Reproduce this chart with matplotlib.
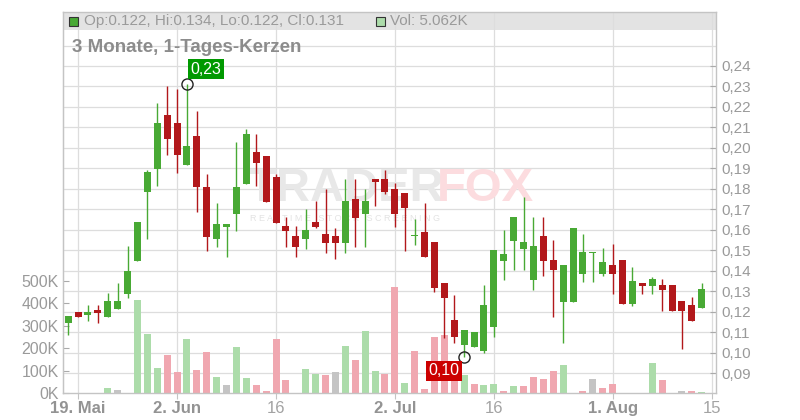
# -*- coding: UTF-8 -*-

# Candlestick chart, 3 months of daily candles, with volume underneath

import numpy as np
import pandas as pd
import matplotlib
matplotlib.use('Agg')
import matplotlib.pyplot as plt
from matplotlib.patches import Rectangle

plt.rcParams['font.family'] = ['Liberation Sans', 'DejaVu Sans']

# trading days 16 May - 15 Aug 2025 (last candle is 14 Aug)
dates = pd.bdate_range('2025-05-16', '2025-08-15')

opens = [0.1146, 0.1198, 0.1185, 0.1208, 0.1175, 0.1215, 0.1288, 0.1449, 0.1786, 0.1898,
         0.2161, 0.2123, 0.1918, 0.2058, 0.1809, 0.1557, 0.1615, 0.1677, 0.1825, 0.1980,
         0.1960, 0.1858, 0.1618, 0.1570, 0.1557, 0.1638, 0.1579, 0.1570, 0.1537, 0.1750,
         0.1679, 0.1848, 0.1848, 0.1799, 0.1780, 0.1568, 0.1589, 0.1540, 0.1340, 0.1159,
         0.1037, 0.1029, 0.1009, 0.1127, 0.1449, 0.1547, 0.1508, 0.1355, 0.1570, 0.1452,
         0.1249, 0.1249, 0.1385, 0.1485, 0.1385, 0.1428, 0.1452, 0.1237, 0.1340, 0.1325,
         0.1330, 0.1330, 0.1252, 0.1232, 0.1220]
highs = [0.1179, 0.1198, 0.1232, 0.1232, 0.1291, 0.1342, 0.1522, 0.1638, 0.1892, 0.2221,
         0.2300, 0.2286, 0.2312, 0.2182, 0.1872, 0.1732, 0.1628, 0.2030, 0.2092, 0.2068,
         0.1960, 0.1872, 0.1664, 0.1618, 0.1703, 0.1742, 0.1801, 0.1609, 0.1850, 0.1850,
         0.1801, 0.1848, 0.1892, 0.1827, 0.1780, 0.1651, 0.1732, 0.1540, 0.1340, 0.1281,
         0.1110, 0.1100, 0.1330, 0.1501, 0.1599, 0.1664, 0.1762, 0.1664, 0.1664, 0.1550,
         0.1428, 0.1609, 0.1579, 0.1491, 0.1511, 0.1530, 0.1452, 0.1418, 0.1340, 0.1369,
         0.1359, 0.1330, 0.1252, 0.1272, 0.1340]
lows = [0.1086, 0.1175, 0.1156, 0.1146, 0.1175, 0.1215, 0.1268, 0.1449, 0.1557, 0.1814,
        0.1965, 0.1879, 0.1918, 0.1688, 0.1498, 0.1517, 0.1469, 0.1596, 0.1825, 0.1814,
        0.1737, 0.1635, 0.1517, 0.1469, 0.1508, 0.1607, 0.1488, 0.1459, 0.1488, 0.1517,
        0.1517, 0.1718, 0.1776, 0.1615, 0.1498, 0.1526, 0.1469, 0.1298, 0.1070, 0.1048,
        0.0980, 0.1029, 0.0996, 0.1078, 0.1355, 0.1403, 0.1403, 0.1306, 0.1374, 0.1175,
        0.1048, 0.1249, 0.1346, 0.1346, 0.1374, 0.1286, 0.1237, 0.1228, 0.1286, 0.1286,
        0.1205, 0.1205, 0.1019, 0.1156, 0.1220]
closes = [0.1179, 0.1175, 0.1198, 0.1195, 0.1254, 0.1254, 0.1399, 0.1638, 0.1882, 0.2123,
          0.2045, 0.1967, 0.2009, 0.1807, 0.1566, 0.1628, 0.1628, 0.1809, 0.2068, 0.1928,
          0.1737, 0.1635, 0.1596, 0.1517, 0.1599, 0.1615, 0.1537, 0.1537, 0.1740, 0.1659,
          0.1740, 0.1835, 0.1786, 0.1679, 0.1708, 0.1572, 0.1469, 0.1317, 0.1268, 0.1078,
          0.1110, 0.1100, 0.1232, 0.1501, 0.1482, 0.1664, 0.1540, 0.1521, 0.1449, 0.1403,
          0.1428, 0.1609, 0.1491, 0.1491, 0.1442, 0.1385, 0.1237, 0.1350, 0.1325, 0.1359,
          0.1306, 0.1205, 0.1205, 0.1156, 0.1310]

# volume in K, colour code g = up, r = down, n = unchanged
volumes = [0, 0, 0, 0, 22, 13, 0, 412, 261, 111,
           168, 93, 239, 102, 182, 71, 35, 204, 66, 35,
           9, 239, 58, 0, 106, 84, 80, 93, 208, 146,
           275, 97, 84, 470, 44, 186, 18, 248, 257, 100,
           80, 40, 35, 40, 9, 31, 31, 71, 62, 97,
           124, 0, 9, 62, 22, 40, 0, 0, 0, 133,
           58, 0, 9, 9, 5.062]
vol_dir = 'nnnngnngggrrgrrgnggrrrrrggrngrggrrgrrrrrgrggrgrrrrgnrnrrnnngrnnrg'

# ticks
price_ticks = [0.09, 0.10, 0.11, 0.12, 0.13, 0.14, 0.15, 0.16, 0.17, 0.18, 0.19, 0.20, 0.21, 0.22, 0.23, 0.24]
vol_ticks = [0, 100, 200, 300, 400, 500]
date_ticks = ['2025-05-19', '2025-06-02', '2025-06-16', '2025-07-02', '2025-07-16', '2025-08-01', '2025-08-15']
date_labels = ['19. Mai', '2. Jun', '16', '2. Jul', '16', '1. Aug', '15']

GREEN = '#48a934'
RED = '#b2181b'
VCOL = {'g': '#acdcaa', 'r': '#f0a7b0', 'n': '#c4c4c4'}
GRID = '#dddddd'
FRAME = '#c4c4c4'
TXT = '#9a9a9a'

opens = np.array(opens)
highs = np.array(highs)
lows = np.array(lows)
closes = np.array(closes)
volumes = np.array(volumes)

ymin, ymax = 0.08023, 0.26638
k = 0.00010993   # price units per 1K of volume

fig = plt.figure(figsize=(8, 4.2), dpi=100)
ax = fig.add_axes([63 / 800, 27 / 420, 653 / 800, 381 / 420])

x = np.arange(len(closes))
col = np.where(closes >= opens, GREEN, RED)

# volume
ax.bar(x, volumes * k, bottom=ymin, width=0.7, color=[VCOL[c] for c in vol_dir], zorder=2)

# candles
ax.vlines(x, lows, highs, color=col, lw=1.0, zorder=3)
body = np.maximum(np.abs(closes - opens), 0.0004)
ax.bar(x, body, bottom=np.minimum(opens, closes), width=0.7, color=col, zorder=4)

ax.set_xlim(-0.52, 65.44)
ax.set_ylim(ymin, ymax)

# grid
ax.set_axisbelow(True)
ax.grid(True, color=GRID, lw=0.9)
ax.axhline(0.25, color=GRID, lw=0.9, zorder=0.5)

for s in ax.spines.values():
    s.set_color(FRAME)
    s.set_linewidth(1.0)

# x axis
xpos = [dates.get_loc(pd.Timestamp(d)) for d in date_ticks]
ax.set_xticks(xpos)
ax.set_xticklabels(date_labels)
for lab in ax.get_xticklabels():
    if '.' in lab.get_text():
        lab.set_fontweight('bold')
        lab.set_color('#939393')
    else:
        lab.set_color('#a3a3a3')
ax.tick_params(axis='x', direction='out', length=4, color=FRAME, labelsize=12, pad=2)

# price axis right
ax.yaxis.tick_right()
ax.set_yticks(price_ticks)
ax.set_yticklabels([f'{p:.2f}'.replace('.', ',') for p in price_ticks])
ax.tick_params(axis='y', direction='in', length=4, color='#aaaaaa', labelsize=11,
               labelcolor=TXT, pad=4)

# volume axis left
sec = ax.secondary_yaxis('left', functions=(lambda p: (p - ymin) / k, lambda v: ymin + v * k))
sec.set_yticks(vol_ticks)
sec.set_yticklabels([f'{v}K' for v in vol_ticks])
sec.tick_params(direction='in', length=4, color='#aaaaaa', labelsize=11.5, labelcolor=TXT, pad=3)
sec.spines['left'].set_color(FRAME)

# high / low markers
ih = int(np.argmax(highs))
il = int(np.argmin(lows))
ax.plot([x[ih], x[il]], [highs[ih], lows[il]], 'o', ms=8, mfc='none', mec='#222222', mew=1, zorder=6)
ax.annotate(f'{highs[ih]:.2f}'.replace('.', ','), (x[ih], highs[ih]), xytext=(19, 15),
            textcoords='offset pixels', ha='center', va='center', color='white', fontsize=11.5,
            bbox=dict(boxstyle='square,pad=0.15', fc='#009900', ec='none'), zorder=7)
ax.annotate(f'{lows[il]:.2f}'.replace('.', ','), (x[il], lows[il]), xytext=(-20, -14),
            textcoords='offset pixels', ha='center', va='center', color='white', fontsize=11.5,
            bbox=dict(boxstyle='square,pad=0.15', fc='#cc0000', ec='none'), zorder=7)

# watermark
ax.text(0.282, 0.535, 'TRADER', transform=ax.transAxes, fontsize=34, fontweight='bold',
        color='#e8e8e8', ha='left', va='center', zorder=1)
ax.text(0.573, 0.535, 'FOX', transform=ax.transAxes, fontsize=34, fontweight='bold',
        color='#fcdcdf', ha='left', va='center', zorder=1)
ax.text(0.286, 0.457, 'R E A L T I M E   S T O C K   S C R E E N I N G', transform=ax.transAxes,
        fontsize=6.5, color='#e3e3e3', ha='left', va='center', zorder=1)

# legend band on top (grid runs through it)
ax.add_patch(Rectangle((0, (393 - 30) / 381), 1, 18 / 381, transform=ax.transAxes,
                       fc='#e3e3e3', ec='none', zorder=0.2))
fig.add_artist(Rectangle((69 / 800, (420 - 26) / 420), 9 / 800, 9 / 420, transform=fig.transFigure,
                         fc=GREEN, ec='#333333', lw=0.8))
fig.text(84 / 800, (420 - 21) / 420,
         f'Op:{opens[-1]:.3f}, Hi:{highs[-1]:.3f}, Lo:{lows[-1]:.3f}, Cl:{closes[-1]:.3f}',
         fontsize=11, color=TXT, va='center', ha='left')
fig.add_artist(Rectangle((376 / 800, (420 - 26) / 420), 9 / 800, 9 / 420, transform=fig.transFigure,
                         fc=VCOL['g'], ec='#333333', lw=0.8))
fig.text(390 / 800, (420 - 21) / 420, f'Vol: {volumes[-1]:.3f}K', fontsize=11, color=TXT,
         va='center', ha='left')

fig.text(72 / 800, (420 - 48) / 420, '3 Monate, 1-Tages-Kerzen', fontsize=13.5, fontweight='bold',
         color='#8c8c8c', va='center', ha='left')

fig.savefig('out.png', dpi=100)
